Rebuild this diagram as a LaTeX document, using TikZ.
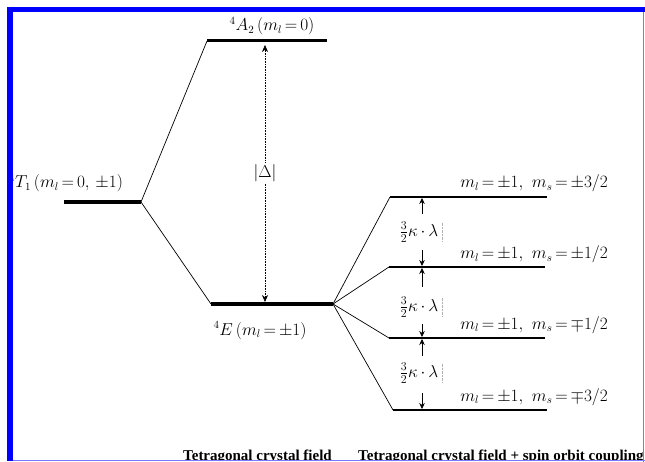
\documentclass[tikz,border=0pt]{standalone}
\usepackage{fontspec}
\setmainfont{Liberation Serif}
\usetikzlibrary{arrows.meta}
\definecolor{frameblue}{RGB}{0,0,255}
\definecolor{framelight}{RGB}{120,120,255}
\begin{document}
\thickmuskip=3mu plus 1mu
\medmuskip=3mu plus 1mu
\begin{tikzpicture}[x=1pt,y=-1pt,
  lvl/.style={line width=3.6pt},
  sublvl/.style={line width=1.3pt},
  conn/.style={line width=0.7pt},
  lab/.style={font=\fontsize{16}{18}\selectfont, inner sep=0pt},
  klab/.style={font=\fontsize{17}{19}\selectfont, inner sep=1pt},
  captext/.style={font=\fontsize{15}{17}\selectfont\bfseries, inner sep=0pt, anchor=base west},
  dtip/.style={densely dotted, line width=0.6pt, -{Stealth[length=7pt,width=6pt]}},
  stip/.style={line width=0.6pt, -{Stealth[length=6pt,width=5.5pt]}}
]
\useasboundingbox (0,0) rectangle (645,462);
\fill[white] (0,0) rectangle (645,462);
% level end points
\coordinate (t1L) at (64,202);  \coordinate (t1R) at (141,202);
\coordinate (a2L) at (207,41);  \coordinate (a2R) at (327,41);
\coordinate (eL)  at (211,304); \coordinate (eR)  at (333,304);
\coordinate (s1L) at (390,197); \coordinate (s1R) at (547,197);
\coordinate (s2L) at (389,267); \coordinate (s2R) at (545,267);
\coordinate (s3L) at (389,338); \coordinate (s3R) at (545,338);
\coordinate (s4L) at (393,410); \coordinate (s4R) at (547,410);
% levels
\draw[lvl] (t1L) -- (t1R);
\draw[line width=3pt] (a2L) -- (a2R);
\draw[lvl] (eL) -- (eR);
\draw[sublvl] (s1L) -- (s1R);
\draw[line width=1.8pt] (s2L) -- (s2R);
\draw[sublvl] (s3L) -- (s3R);
\draw[sublvl] (s4L) -- (s4R);
% connectors
\draw[conn] (t1R) -- (a2L);
\draw[conn] (t1R) -- (eL);
\draw[conn] (eR) -- (s1L);
\draw[conn] (eR) -- (s2L);
\draw[conn] (eR) -- (s3L);
\draw[conn] (eR) -- (s4L);
% labels
\node[lab, anchor=base] (a2lab) at (272,31) {$^4A_2\,(m_l=0)$};
\node[lab, anchor=base west] (t1lab) at (9,188) {$^4T_1\,(m_l=0,\;\pm1)$};
\node[lab, anchor=base] (elab) at (260,335) {$^4E\,(m_l=\pm1)$};
\node[lab, anchor=base east] (l1) at (608,188) {$m_l=\pm1,\;\, m_s=\pm3/2$};
\node[lab, anchor=base east] (l2) at (608,259) {$m_l=\pm1,\;\, m_s=\pm1/2$};
\node[lab, anchor=base east] (l3) at (608,329) {$m_l=\pm1,\;\, m_s=\mp1/2$};
\node[lab, anchor=base east] (l4) at (608,401) {$m_l=\pm1,\;\, m_s=\mp3/2$};
% Delta
\node[lab, inner sep=2pt] (delta) at (265,173) {$|\Delta|$};
\coordinate (dtop) at (265,45);
\coordinate (dbot) at (265,302);
\draw[dtip] (delta.north) -- (dtop);
\draw[dtip] (delta.south) -- (dbot);
% spin-orbit gaps
\node[klab] (k1) at (419,232) {$\textstyle\frac{3}{2}\kappa\cdot\lambda$};
\node[klab] (k2) at (419,307) {$\textstyle\frac{3}{2}\kappa\cdot\lambda$};
\node[klab] (k3) at (419,373) {$\textstyle\frac{3}{2}\kappa\cdot\lambda$};
\foreach \k in {k1,k2,k3}{
  \draw[gray!60, densely dotted, line width=0.4pt] ([xshift=3pt,yshift=-2pt]\k.north east) -- ([xshift=3pt,yshift=2pt]\k.south east);
}
\draw[stip] (422,214) -- (422,198);
\draw[stip] (422,250) -- (422,266);
\draw[stip] (422,287) -- (422,268);
\draw[stip] (422,324) -- (422,337);
\draw[stip] (422,356) -- (422,339);
\draw[stip] (422,393) -- (422,409);
% captions (clipped by frame, as in the original)
\begin{scope}
\clip (12,12) rectangle (643.5,460.5);
\node[captext] (cap1) at (183,460.5) {Tetragonal crystal field};
\node[captext] (cap2) at (358,460.5) {Tetragonal crystal field + spin orbit coupling};
\end{scope}
% frame
\fill[frameblue] (7,7) rectangle (645,12.5);
\fill[frameblue] (7,7) rectangle (12.5,461);
\draw[framelight, line width=1pt] (643.5,12.5) -- (643.5,462);
\draw[framelight, line width=1pt] (12.5,460.8) -- (645,460.8);
\end{tikzpicture}
\end{document}
